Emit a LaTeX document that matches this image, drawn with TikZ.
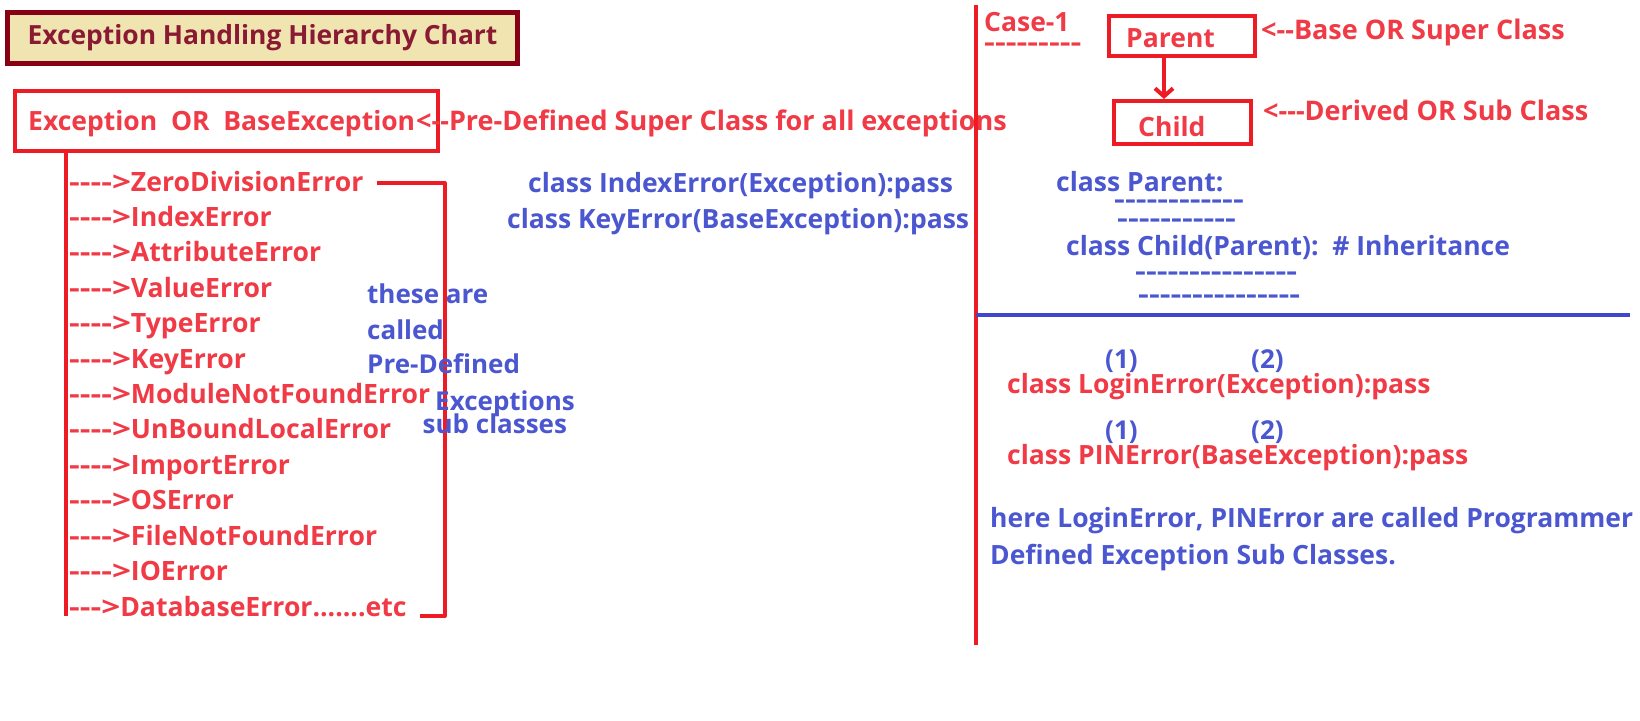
\documentclass[tikz,border=0pt]{standalone}
\usepackage{graphicx}
\usepackage{fontspec}
\setmainfont{Open Sans}[Ligatures=TeXOff]
\usetikzlibrary{arrows.meta}
\definecolor{boxred}{HTML}{ED1C24}
\definecolor{txtred}{HTML}{F03A46}
\definecolor{txtblue}{HTML}{4B57D0}
\definecolor{lineblue}{HTML}{3F48CC}
\definecolor{titlefill}{HTML}{F0E4B0}
\definecolor{titledraw}{HTML}{880015}
\definecolor{titletxt}{HTML}{8A1A33}
\newcommand\arw[1]{\scalebox{1.25}[1]{#1}}
\newcommand\dashes[1]{\scalebox{1.29}[1]{#1}}
\begin{document}
\begin{tikzpicture}[x=1pt,y=-1pt,
  rt/.style={anchor=base west, inner sep=0pt, text=txtred, font=\fontsize{27}{27}\selectfont\bfseries},
  bt/.style={rt, text=txtblue},
  ct/.style={font=\fontsize{26.5}{26.5}\selectfont\bfseries},
  lt/.style={font=\fontsize{26.6}{26.6}\selectfont\bfseries},
  redbox/.style={draw=boxred, line width=4pt, inner sep=0pt},
  redline/.style={draw=boxred, line width=4pt, line join=round},
  dashrow/.style={anchor=base west, inner sep=0pt, font=\fontsize{26}{26}\selectfont\bfseries},
]
\useasboundingbox[fill=white] (0,0) rectangle (1640,720);

% title
\node[draw=titledraw, line width=5pt, fill=titlefill, minimum width=510pt, minimum height=51pt,
      text=titletxt, font=\fontsize{26.4}{26.4}\selectfont\bfseries] (title) at (262.5,38) {Exception Handling Hierarchy Chart};

% exception box
\node[redbox, minimum width=423pt, minimum height=60pt] (exc) at (226,121) {};
\node[rt, ct] (exctext) at (28,130) {Exception\ \ OR\ \ BaseException};
\node[rt] (excnote) at (416,130) {<--Pre-Defined Super Class for all exceptions};

% list
\foreach \t [count=\i from 0] in {ZeroDivisionError, IndexError, AttributeError,
  ValueError, TypeError, KeyError, ModuleNotFoundError,
  UnBoundLocalError, ImportError, OSError, FileNotFoundError, IOError}
  \node[rt, lt] (item\i) at (69,{191+35.4*\i}) {\arw{---->}\t};
\node[rt, lt] (item12) at (69,616) {\arw{--->}DatabaseError.......etc};

\coordinate (trunkend) at (66,616);
\draw[redline] (exc.south -| trunkend) -- (trunkend);
\coordinate (brA) at (376.5,183);
\coordinate (brB) at (444.5,183);
\coordinate (brC) at (444.5,616);
\coordinate (brD) at (420,616);
\draw[redline] (brA) -- (brB) -- (brC) -- (brD);

\node[bt, dashrow, text=txtblue] (n1) at (367,303) {these are};
\node[bt, dashrow, text=txtblue] (n2) at (367,339) {called};
\node[bt, dashrow, text=txtblue] (n3) at (367,373) {Pre-Defined};
\node[bt, dashrow, text=txtblue] (n4) at (435,410) {Exceptions};
\node[bt, dashrow, text=txtblue] (n5) at (422.5,433) {sub classes};

\node[bt, ct] (c1) at (528,192.5) {class IndexError(Exception):pass};
\node[bt, ct] (c2) at (507,228) {class KeyError(BaseException):pass};

% dividers
\coordinate (vtop) at (976,5);
\coordinate (vbot) at (976,645);
\draw[redline] (vtop) -- (vbot);
\coordinate (hl) at (976,315);
\coordinate (hr) at (1630,315);
\draw[draw=lineblue, line width=4pt] (hl) -- (hr);

% case 1
\node[rt, ct] (case) at (984,31) {Case-1};
\node[dashrow, text=txtred] (cased) at (984,51.5) {\dashes{---------}};
\node[redbox, minimum width=146pt, minimum height=40pt] (parent) at (1182,35.5) {};
\node[rt, ct] (parenttext) at (1126,47) {Parent};
\node[redbox, minimum width=137pt, minimum height=43pt] (child) at (1182.5,122.5) {};
\node[rt, ct] (childtext) at (1138,136) {Child};
\coordinate (ax) at (1164,0);
\draw[redline, -{Straight Barb[length=8pt,width=18pt]}] (parent.south -| ax) -- (child.north -| ax);
\node[rt] (basenote) at (1261,39) {<--Base OR Super Class};
\node[rt] (dernote) at (1263,120) {<---Derived OR Sub Class};

\node[bt, ct] (p1) at (1056,191) {class Parent:};
\node[dashrow, text=txtblue] (d1) at (1114,208.5) {\dashes{------------}};
\node[dashrow, text=txtblue] (d2) at (1117,227.5) {\dashes{-----------}};
\node[bt, ct] (p2) at (1066,255) {class Child(Parent):\ \ \# Inheritance};
\node[dashrow, text=txtblue] (d3) at (1135,280.5) {\dashes{---------------}};
\node[dashrow, text=txtblue] (d4) at (1138,303.5) {\dashes{---------------}};

\node[bt, dashrow, text=txtblue] (a1) at (1105,368) {(1)};
\node[bt, dashrow, text=txtblue] (a2) at (1251,368) {(2)};
\node[rt, ct] (l1) at (1007,393) {class LoginError(Exception):pass};
\node[bt, dashrow, text=txtblue] (b1) at (1105,439) {(1)};
\node[bt, dashrow, text=txtblue] (b2) at (1251,439) {(2)};
\node[rt, ct] (l2) at (1007,464) {class PINError(BaseException):pass};
\node[bt, ct] (h1) at (990,527) {here LoginError, PINError are called Programmer};
\node[bt, ct] (h2) at (990,564) {Defined Exception Sub Classes.};
\end{tikzpicture}
\end{document}
